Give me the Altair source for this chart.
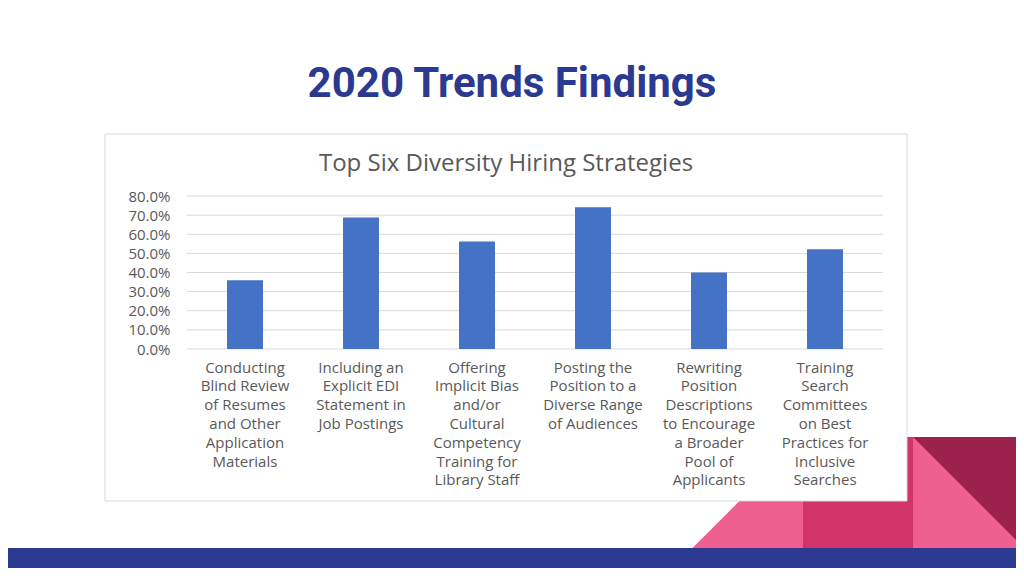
import altair as alt
import pandas as pd

# ---- data ----
categories = [
    "Conducting\nBlind Review\nof Resumes\nand Other\nApplication\nMaterials",
    "Including an\nExplicit EDI\nStatement in\nJob Postings",
    "Offering\nImplicit Bias\nand/or\nCultural\nCompetency\nTraining for\nLibrary Staff",
    "Posting the\nPosition to a\nDiverse Range\nof Audiences",
    "Rewriting\nPosition\nDescriptions\nto Encourage\na Broader\nPool of\nApplicants",
    "Training\nSearch\nCommittees\non Best\nPractices for\nInclusive\nSearches",
]
values = [0.36, 0.687, 0.562, 0.741, 0.40, 0.522]
y_ticks = [0.0, 0.1, 0.2, 0.3, 0.4, 0.5, 0.6, 0.7, 0.8]
slide_title = "2020 Trends Findings"
chart_title = "Top Six Diversity Hiring Strategies"

df = pd.DataFrame({"strategy": categories, "share": values})
grid_df = pd.DataFrame({"share": y_ticks})
one = pd.DataFrame({"k": [0]})

W, H = 696, 153
GREY = "#595959"

yscale = alt.Scale(domain=[0, 0.8], nice=False)
y_axis = alt.Axis(title=None, values=y_ticks, format=".1%",
                  grid=False, domain=False, ticks=False,
                  labelOverlap=False, labelFlush=False,
                  labelFont="Open Sans", labelFontSize=15,
                  labelColor=GREY, labelPadding=17, zindex=1)

# ---- slide decorations (pixel positions, not data) ----
blue_bar = alt.Chart(one).mark_rect(color="#2B3990").encode(
    x=alt.value(-187), x2=alt.value(840), y=alt.value(352), y2=alt.value(385))
pink_tri = alt.Chart(one).mark_point(
    shape="M-1,1 L1,-1 L1,1 Z", filled=True, opacity=1, strokeWidth=0,
    color="#EE5E8F", size=111 * 111).encode(x=alt.value(561), y=alt.value(296.5))
crimson = alt.Chart(one).mark_rect(color="#D13468").encode(
    x=alt.value(616), x2=alt.value(726.5), y=alt.value(241), y2=alt.value(352))
pink_sq = alt.Chart(one).mark_rect(color="#EE5E8F").encode(
    x=alt.value(726), x2=alt.value(840), y=alt.value(241), y2=alt.value(352))
maroon_tri = alt.Chart(one).mark_point(
    shape="M-1,-1 L1,-1 L1,1 Z", filled=True, opacity=1, strokeWidth=0,
    color="#9C214C", size=111 * 111).encode(x=alt.value(781.5), y=alt.value(296.5))
box = alt.Chart(one).mark_rect(fill="white", stroke="#D9D9D9", strokeWidth=1).encode(
    x=alt.value(-82), x2=alt.value(720), y=alt.value(-62), y2=alt.value(305))

title_main = alt.Chart(pd.DataFrame({"t": [slide_title]})).mark_text(
    font="Roboto", fontWeight="bold", fontSize=42, color="#2B3990",
    align="center", baseline="alphabetic").encode(
    text="t:N", x=alt.value(325), y=alt.value(-99))
title_chart = alt.Chart(pd.DataFrame({"t": [chart_title]})).mark_text(
    font="Open Sans", fontSize=24, color=GREY,
    align="center", baseline="alphabetic").encode(
    text="t:N", x=alt.value(319), y=alt.value(-25))

grid = alt.Chart(grid_df).mark_rule(color="#D9D9D9", strokeWidth=1).encode(
    y=alt.Y("share:Q", scale=yscale, axis=y_axis))

bars = alt.Chart(df).mark_bar(color="#4472C4").encode(
    x=alt.X("strategy:N", sort=None,
            scale=alt.Scale(paddingInner=0.69, paddingOuter=0.345),
            axis=alt.Axis(title=None, labelAngle=0, domain=False, ticks=False,
                          labelExpr="split(datum.label, '\\n')",
                          labelFont="Open Sans", labelFontSize=15,
                          labelColor=GREY, labelPadding=11,
                          labelLineHeight=18.8, labelLimit=300,
                          labelOverlap=False,
                          labelBaseline="top", zindex=1)),
    y=alt.Y("share:Q", scale=yscale, axis=y_axis),
)

chart = alt.layer(
    blue_bar, pink_tri, crimson, pink_sq, maroon_tri, box,
    title_main, title_chart, grid, bars,
).properties(
    width=W, height=H,
    padding={"left": 179, "top": 188, "right": 133, "bottom": 219},
    autosize=alt.AutoSizeParams(type="none"),
).configure_view(stroke=None)

chart.save("out.html", embed_options={"renderer": "svg", "actions": False})
